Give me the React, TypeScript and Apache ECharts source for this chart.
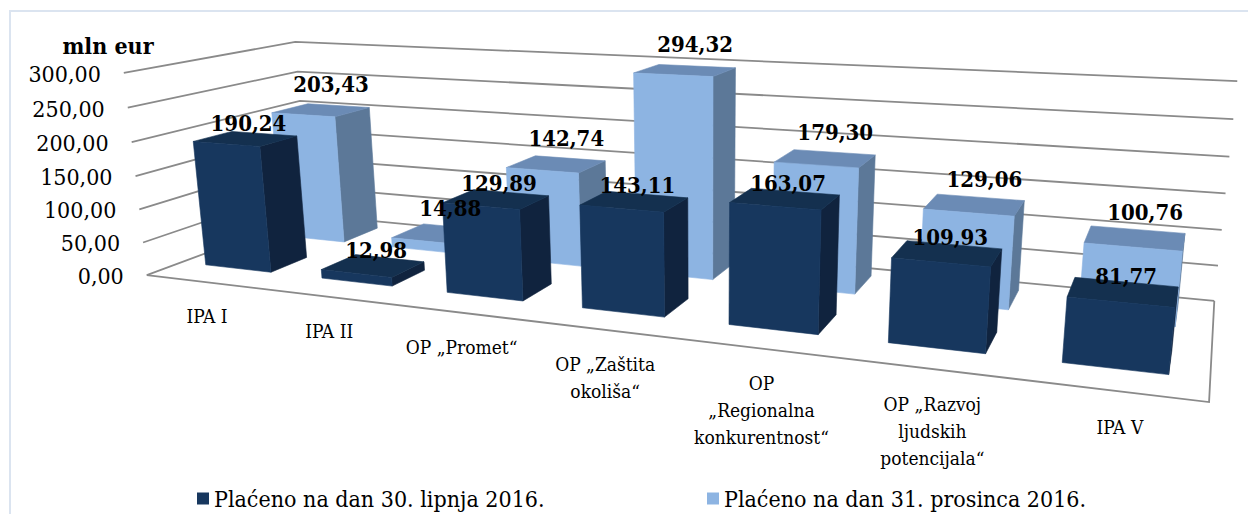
import React, { useEffect, useRef } from 'react';
import * as echarts from 'echarts';

// ---------------- data ----------------
const categories = [
  'IPA I',
  'IPA II',
  'OP „Promet“',
  'OP „Zaštita\nokoliša“',
  'OP\n„Regionalna\nkonkurentnost“',
  'OP „Razvoj\nljudskih\npotencijala“',
  'IPA V',
];
const paidJune = [190.24, 12.98, 129.89, 143.11, 163.07, 109.93, 81.77];
const paidDec = [203.43, 14.88, 142.74, 294.32, 179.3, 129.06, 100.76];
const yTicks = [0, 50, 100, 150, 200, 250, 300];
const seriesNames = ['Plaćeno na dan 30. lipnja 2016.', 'Plaćeno na dan 31. prosinca 2016.'];
const unitLabel = 'mln eur';

// ---------------- layout / style ----------------
const FONT = 'DejaVu Serif Condensed, DejaVu Serif';
const DARK = { front: '#17375e', side: '#10233e', top: '#14304f' };
const LIGHT = { front: '#8db4e2', side: '#5c7898', top: '#6b8bb5' };
const GRID_COLOR = '#8a8a8a';
const BAR_W = 0.57; // fraction of a category band
const ROW_DARK: [number, number] = [0.19, 0.41];
const ROW_LIGHT: [number, number] = [0.66, 0.9];
const LABEL_Z = -0.05;

// Camera calibration: normalized box corners (x,y,z in 0..1) -> screen px
const CALIB: [number[], number[]][] = [
  [[0, 1, 0], [124, 78]],
  [[0, 0, 0], [147, 278]],
  [[0, 1, 1], [295, 38]],
  [[0, 0, 1], [309, 212]],
  [[1, 1, 1], [1237, 91]],
  [[1, 0, 1], [1215, 300]],
  [[1, 0, 0], [1208, 404]],
  [[1, 1, 0], [1238, 120]],
];

function solveCamera(): number[] {
  const rows: number[][] = [];
  const rhs: number[] = [];
  for (const [[X, Y, Z], [u0, v0]] of CALIB) {
    const u = u0 / 1000, v = v0 / 1000;
    rows.push([X, Y, Z, 1, 0, 0, 0, 0, -u * X, -u * Y, -u * Z]);
    rhs.push(u);
    rows.push([0, 0, 0, 0, X, Y, Z, 1, -v * X, -v * Y, -v * Z]);
    rhs.push(v);
  }
  const n = 11;
  const M: number[][] = Array.from({ length: n }, () => new Array(n + 1).fill(0));
  for (let r = 0; r < rows.length; r++) {
    for (let i = 0; i < n; i++) {
      for (let j = 0; j < n; j++) M[i][j] += rows[r][i] * rows[r][j];
      M[i][n] += rows[r][i] * rhs[r];
    }
  }
  for (let c = 0; c < n; c++) {
    let piv = c;
    for (let r = c + 1; r < n; r++) if (Math.abs(M[r][c]) > Math.abs(M[piv][c])) piv = r;
    const tmp = M[c]; M[c] = M[piv]; M[piv] = tmp;
    for (let r = 0; r < n; r++) {
      if (r === c) continue;
      const f = M[r][c] / M[c][c];
      for (let k = c; k <= n; k++) M[r][k] -= f * M[c][k];
    }
  }
  return M.map((row, i) => row[n] / row[i]);
}
const CAM = solveCamera();
function project(x: number, y: number, z: number): number[] {
  const p = CAM;
  const w = p[8] * x + p[9] * y + p[10] * z + 1;
  return [
    ((p[0] * x + p[1] * y + p[2] * z + p[3]) / w) * 1000,
    ((p[4] * x + p[5] * y + p[6] * z + p[7]) / w) * 1000,
  ];
}

const fmt = (v: number) => v.toFixed(2).replace('.', ',');

// convert library coords to normalized box coords
function norm(params: any, pt: number[]) {
  const cs = params.coordSys;
  return [(pt[0] - cs.x) / cs.width, (cs.y + cs.height - pt[1]) / cs.height];
}

function barRenderer(row: [number, number], col: { front: string; side: string; top: string }) {
  return (params: any, api: any) => {
    const i = api.value(0);
    const v = api.value(1);
    const band = api.size([1, 0])[0];
    const half = (band * BAR_W) / 2;
    const top = api.coord([i, v]);
    const base = api.coord([i, 0]);
    const [xl, yt] = norm(params, [top[0] - half, top[1]]);
    const [xr, yb] = norm(params, [top[0] + half, base[1]]);
    const [z0, z1] = row;
    const fbl = project(xl, yb, z0), fbr = project(xr, yb, z0);
    const ftl = project(xl, yt, z0), ftr = project(xr, yt, z0);
    const bbr = project(xr, yb, z1), btr = project(xr, yt, z1), btl = project(xl, yt, z1);
    const face = (pts: number[][], c: string) => ({
      type: 'polygon',
      shape: { points: pts },
      style: { fill: c, stroke: c, lineWidth: 0.6 },
    });
    return {
      type: 'group',
      children: [
        face([fbr, bbr, btr, ftr], col.side),
        face([ftl, ftr, btr, btl], col.top),
        face([fbl, fbr, ftr, ftl], col.front),
      ],
    };
  };
}

function labelRenderer(row: [number, number], dy: number, dx: number) {
  return (params: any, api: any) => {
    const i = api.value(0);
    const v = api.value(1);
    const top = api.coord([i, v]);
    const [xc, yt] = norm(params, top);
    const p = project(xc, yt, (row[0] + row[1]) / 2);
    return {
      type: 'text',
      x: p[0] + dx,
      y: p[1] - dy,
      style: {
        text: fmt(v),
        fill: '#000',
        fontFamily: FONT,
        fontSize: 22,
        fontWeight: 'bold',
        align: 'center',
        verticalAlign: 'middle',
      },
    };
  };
}

function gridRenderer(params: any, api: any) {
  const v = api.value(1);
  const pt = api.coord([0, v]);
  const [, y] = norm(params, pt);
  const a = project(0, y, 0), b = project(0, y, 1), c = project(1, y, 1);
  const children: any[] = [
    {
      type: 'polyline',
      shape: { points: [a, b, c] },
      style: { stroke: GRID_COLOR, lineWidth: 1.8, fill: null },
    },
    {
      type: 'text',
      x: a[0] - 23,
      y: a[1] + 1,
      style: {
        text: fmt(v),
        fill: '#000',
        fontFamily: FONT,
        fontSize: 23,
        align: 'right',
        verticalAlign: 'middle',
      },
    },
  ];
  if (v === 0) {
    children.push({
      type: 'polyline',
      shape: { points: [a, project(1, 0, 0), project(1, 0, 1)] },
      style: { stroke: GRID_COLOR, lineWidth: 1.8, fill: null },
    });
  }
  return { type: 'group', children };
}

function categoryRenderer(params: any, api: any) {
  const i = api.value(0);
  const pt = api.coord([i, 0]);
  const [xc] = norm(params, pt);
  const p = project(xc, 0, LABEL_Z);
  return {
    type: 'text',
    x: p[0] + 12,
    y: p[1] + 17,
    style: {
      text: categories[i],
      fill: '#000',
      fontFamily: FONT,
      fontSize: 19,
      lineHeight: 27,
      align: 'center',
      verticalAlign: 'top',
    },
  };
}

export default function App() {
  const ref = useRef<HTMLDivElement>(null);
  useEffect(() => {
    if (!ref.current) return;
    const chart = echarts.init(ref.current, null, { renderer: 'svg' });
    const darkData = paidJune.map((v, i) => [i, v]);
    const lightData = paidDec.map((v, i) => [i, v]);
    const base = { type: 'custom', coordinateSystem: 'cartesian2d', encode: { x: 0, y: 1 }, silent: true };
    const legendBase = {
      top: 487,
      padding: 0,
      icon: 'rect',
      itemWidth: 12,
      itemHeight: 12,
      textStyle: { fontFamily: FONT, fontSize: 23, color: '#000' },
      selectedMode: false,
    };
    chart.setOption({
      animation: false,
      backgroundColor: '#fff',
      textStyle: { fontFamily: FONT },
      grid: { left: 0, top: 0, width: 700, height: 300, show: false },
      xAxis: { type: 'category', data: categories, show: false },
      yAxis: { type: 'value', min: 0, max: 300, interval: 50, show: false },
      legend: [
        { ...legendBase, data: [seriesNames[0]], left: 197 },
        { ...legendBase, data: [seriesNames[1]], left: 707 },
      ],
      graphic: [
        {
          type: 'rect',
          shape: { x: 10, y: 11, width: 1260, height: 520 },
          style: { fill: null, stroke: '#dbe4f0', lineWidth: 2 },
          silent: true,
        },
        {
          type: 'text',
          x: 108,
          y: 45,
          style: {
            text: unitLabel,
            fill: '#000',
            fontFamily: FONT,
            fontSize: 23,
            fontWeight: 'bold',
            align: 'center',
            verticalAlign: 'middle',
          },
        },
      ],
      series: [
        { ...base, name: 'grid', data: yTicks.map((v) => [0, v]), renderItem: gridRenderer, z: 1 },
        { ...base, name: 'cats', data: categories.map((_, i) => [i, 0]), renderItem: categoryRenderer, z: 1 },
        {
          ...base,
          name: seriesNames[1],
          data: lightData,
          renderItem: barRenderer(ROW_LIGHT, LIGHT),
          itemStyle: { color: LIGHT.front },
          z: 2,
        },
        {
          ...base,
          name: seriesNames[0],
          data: darkData,
          renderItem: barRenderer(ROW_DARK, DARK),
          itemStyle: { color: DARK.front },
          z: 3,
        },
        { ...base, name: 'lblLight', data: lightData, renderItem: labelRenderer(ROW_LIGHT, 26, 10), z: 5 },
        { ...base, name: 'lblDark', data: darkData, renderItem: labelRenderer(ROW_DARK, 16, 3), z: 6 },
      ],
    });
    return () => chart.dispose();
  }, []);
  return (
    <div
      ref={ref}
      style={{ position: 'fixed', left: 0, top: 0, width: 1248, height: 514 }}
    />
  );
}
